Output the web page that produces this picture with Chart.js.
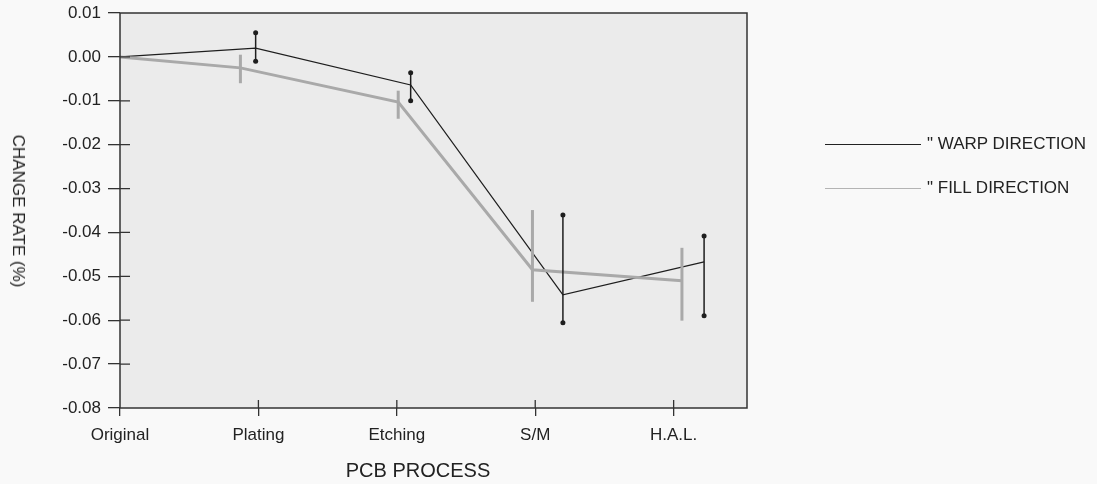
<!DOCTYPE html>
<html>
<head>
<meta charset="utf-8">
<script src="https://cdn.jsdelivr.net/npm/chart.js@4"></script>
<style>
  html, body { margin: 0; padding: 0; background: #f9f9f9; }
  #wrap { position: relative; width: 1097px; height: 484px; font-family: "Liberation Sans", Arial, sans-serif; color: #222; }
  #ytitle { position: absolute; left: 18px; top: 211px; transform: translate(-50%, -50%) rotate(90deg); font-size: 17px; white-space: nowrap; }
  #xtitle { position: absolute; left: 418px; top: 470px; transform: translate(-50%, -50%); font-size: 20px; white-space: nowrap; }
  .leg { position: absolute; left: 825px; font-size: 17px; white-space: nowrap; line-height: 20px; }
  .leg span { display: inline-block; width: 96px; vertical-align: middle; margin-right: 6px; }
</style>
</head>
<body>
<div id="wrap">
  <canvas id="chart" width="1097" height="484"></canvas>
  <div id="ytitle">CHANGE RATE (%)</div>
  <div id="xtitle">PCB PROCESS</div>
  <div class="leg" style="top:134px"><span style="border-top:1.5px solid #222"></span>" WARP DIRECTION</div>
  <div class="leg" style="top:178px"><span style="border-top:1.5px solid #b4b4b4"></span>" FILL DIRECTION</div>
</div>
<script>
const categories = ['Original', 'Plating', 'Etching', 'S/M', 'H.A.L.'];

// x positions are slightly offset from the category ticks in the original
const warpX = [0, 0.98, 2.10, 3.20, 4.22];
const warpY = [0, 0.002, -0.0064, -0.0542, -0.0467];
const warpLow = [null, -0.001, -0.0100, -0.0606, -0.0590];
const warpHigh = [null, 0.0055, -0.0036, -0.0360, -0.0408];

const fillX = [0, 0.87, 2.01, 2.98, 4.06];
const fillY = [0, -0.0025, -0.0103, -0.0485, -0.0510];
const fillLow = [null, -0.0060, -0.0141, -0.0558, -0.0601];
const fillHigh = [null, 0.0005, -0.0077, -0.0349, -0.0435];

const yTicks = [0.01, 0, -0.01, -0.02, -0.03, -0.04, -0.05, -0.06, -0.07, -0.08];

const toPoints = (xs, ys) => xs.map((x, i) => ({ x: x, y: ys[i] }));

const plotBox = {
    id: 'plotBox',
    beforeDatasetsDraw(chart) {
        const { ctx, chartArea: a } = chart;
        ctx.save();
        ctx.fillStyle = '#ebebeb';
        ctx.fillRect(a.left, a.top, a.width, a.height);
        ctx.restore();
    },
    afterDraw(chart) {
        const { ctx, chartArea: a, scales } = chart;
        ctx.save();
        ctx.strokeStyle = '#333';
        ctx.lineWidth = 1.5;
        ctx.strokeRect(a.left, a.top, a.width, a.height);
        // ticks crossing into the plot
        ctx.lineWidth = 1.3;
        ctx.beginPath();
        scales.y.ticks.forEach(t => {
            if (t.value === 0.01 || t.value === -0.08) return;
            const py = scales.y.getPixelForValue(t.value);
            ctx.moveTo(a.left, py);
            ctx.lineTo(a.left + 10, py);
        });
        scales.x.ticks.forEach(t => {
            if (t.value === 0) return;
            const px = scales.x.getPixelForValue(t.value);
            ctx.moveTo(px, a.bottom);
            ctx.lineTo(px, a.bottom - 8);
        });
        ctx.stroke();
        ctx.restore();
    }
};

const errorBars = {
    id: 'errorBars',
    afterDatasetsDraw(chart) {
        const { ctx, scales } = chart;
        const sets = [
            { xs: fillX, lo: fillLow, hi: fillHigh, color: '#a9a9a9', width: 3, caps: false },
            { xs: warpX, lo: warpLow, hi: warpHigh, color: '#1e1e1e', width: 1.5, caps: true }
        ];
        ctx.save();
        sets.forEach(s => {
            s.xs.forEach((x, i) => {
                if (s.lo[i] === null) return;
                const px = scales.x.getPixelForValue(x);
                const y1 = scales.y.getPixelForValue(s.lo[i]);
                const y2 = scales.y.getPixelForValue(s.hi[i]);
                ctx.strokeStyle = s.color;
                ctx.lineWidth = s.width;
                ctx.beginPath();
                ctx.moveTo(px, y1);
                ctx.lineTo(px, y2);
                ctx.stroke();
                if (s.caps) {
                    ctx.fillStyle = s.color;
                    [y1, y2].forEach(py => {
                        ctx.beginPath();
                        ctx.arc(px, py, 2.5, 0, Math.PI * 2);
                        ctx.fill();
                    });
                }
            });
        });
        ctx.restore();
    }
};

new Chart(document.getElementById('chart'), {
    type: 'line',
    data: {
        datasets: [
            {
                label: '" FILL DIRECTION',
                data: toPoints(fillX, fillY),
                borderColor: '#a9a9a9',
                borderWidth: 3,
                pointRadius: 0,
                tension: 0
            },
            {
                label: '" WARP DIRECTION',
                data: toPoints(warpX, warpY),
                borderColor: '#1e1e1e',
                borderWidth: 1.3,
                pointRadius: 0,
                tension: 0
            }
        ]
    },
    options: {
        responsive: false,
        animation: false,
        layout: { padding: { top: 13, right: 350, left: 0, bottom: 0 } },
        plugins: { legend: { display: false }, tooltip: { enabled: false } },
        scales: {
            x: {
                type: 'linear',
                min: 0,
                max: 4.53,
                afterBuildTicks: s => { s.ticks = categories.map((c, i) => ({ value: i })); },
                afterFit: s => { s.height = 76; s.paddingLeft = 0; s.paddingRight = 0; },
                grid: { display: true, drawOnChartArea: false, tickLength: 8, color: '#333', lineWidth: 1.3 },
                border: { display: false },
                ticks: {
                    padding: 9,
                    color: '#222',
                    font: { family: 'Liberation Sans', size: 17 },
                    maxRotation: 0,
                    autoSkip: false,
                    callback: v => categories[v]
                }
            },
            y: {
                min: -0.08,
                max: 0.01,
                afterBuildTicks: s => { s.ticks = yTicks.map(v => ({ value: v })); },
                afterFit: s => { s.width = 120; s.paddingTop = 0; s.paddingBottom = 0; },
                grid: { display: true, drawOnChartArea: false, tickLength: 12, color: '#333', lineWidth: 1.3 },
                border: { display: false },
                ticks: {
                    padding: 7,
                    color: '#222',
                    font: { family: 'Liberation Sans', size: 17 },
                    callback: v => v.toFixed(2)
                }
            }
        }
    },
    plugins: [plotBox, errorBars]
});
</script>
</body>
</html>
